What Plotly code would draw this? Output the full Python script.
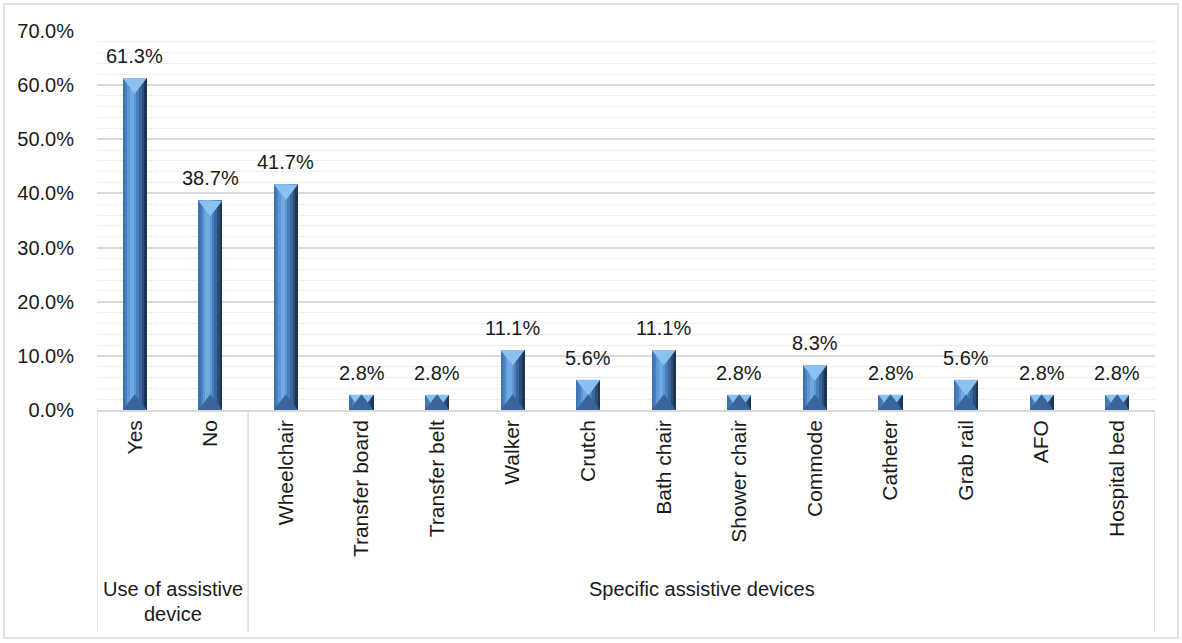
import plotly.graph_objects as go

# Survey results: use of assistive devices and the specific devices used
categories = ["Yes", "No", "Wheelchair", "Transfer board", "Transfer belt", "Walker",
              "Crutch", "Bath chair", "Shower chair", "Commode", "Catheter",
              "Grab rail", "AFO", "Hospital bed"]
values = [61.3, 38.7, 41.7, 2.8, 2.8, 11.1, 5.6, 11.1, 2.8, 8.3, 2.8, 5.6, 2.8, 2.8]
groups = [["Use of assistive", "device"], ["Specific assistive devices"]]
group_sizes = [2, 12]

FONT = "Liberation Sans, Arial, sans-serif"
TXT = "#1a1a1a"
GRID = "#d9d9d9"

# plot-area geometry (px) used for the bevel markers and decorations
W, H = 1182, 643
ML, MR, MT, MB = 97, 27, 31, 233
plot_h = H - MT - MB
px_per_unit = plot_h / 70.0


def py(p):
    """Pixel row -> paper y."""
    return (MT + plot_h - p) / plot_h


fig = go.Figure()

half = 0.16
# vertical strips give the bars a bevelled, cylindrical shading
strips = [
    (-half, half, "#4a7fbf"),
    (-half, -half + 0.03, "#3f72b0"),
    (-0.10, 0.02, "#5f97d6"),
    (-0.07, -0.01, "#6eaae6"),
    (0.05, half, "#3a6699"),
    (0.09, half, "#2b4d77"),
    (0.125, half, "#1d3654"),
]
for i, (a, b, col) in enumerate(strips):
    fig.add_trace(go.Bar(
        x=categories, y=values, width=b - a, offset=a,
        marker=dict(color=col, line=dict(width=0)),
        hoverinfo="skip" if i else None, showlegend=False,
    ))

# top and bottom bevel facets
bar_px = 2 * half * (W - ML - MR) / len(categories)
msize = bar_px / 1.1547
r = msize / 2
top_y = [v - (r / 2) / px_per_unit for v in values]
bot_y = [(r / 2) / px_per_unit for v in values]
fig.add_trace(go.Scatter(
    x=categories, y=top_y, mode="markers", hoverinfo="skip", showlegend=False,
    marker=dict(symbol="triangle-down", size=msize, color="#8cc0f0",
                line=dict(width=0)), cliponaxis=False))
fig.add_trace(go.Scatter(
    x=categories, y=bot_y, mode="markers", hoverinfo="skip", showlegend=False,
    marker=dict(symbol="triangle-up", size=msize, color="#3a659a",
                line=dict(width=0)), cliponaxis=False))

annotations = []
# value labels above each bar
for c, v in zip(categories, values):
    annotations.append(dict(
        x=c, y=v, xref="x", yref="y", yanchor="bottom", yshift=9,
        text=f"{v:.1f}%", showarrow=False,
        font=dict(family=FONT, size=20, color=TXT)))

# group labels and dividers below the category axis
shapes = []
start = 0
edges = [-0.5]
for lines, n in zip(groups, group_sizes):
    centre = start + (n - 1) / 2
    for k, line in enumerate(lines):
        annotations.append(dict(
            x=centre, xref="x", y=py(589 + 25 * k), yref="paper",
            yanchor="middle", text=line, showarrow=False,
            font=dict(family=FONT, size=20, color=TXT)))
    start += n
    edges.append(start - 0.5)
for e in edges:
    shapes.append(dict(type="line", xref="x", yref="paper", x0=e, x1=e,
                       y0=0, y1=py(632),
                       line=dict(color=GRID, width=1.5)))

# outer chart border
pw = W - ML - MR
shapes.append(dict(type="rect", xref="paper", yref="paper",
                   x0=(4 - ML) / pw, x1=(W - 4 - ML) / pw,
                   y0=py(H - 5), y1=py(4),
                   line=dict(color=GRID, width=1.5), fillcolor="rgba(0,0,0,0)",
                   layer="below"))

fig.update_layout(
    width=W, height=H, margin=dict(l=ML, r=MR, t=MT, b=MB),
    paper_bgcolor="white", plot_bgcolor="white",
    barmode="overlay", bargap=0,
    font=dict(family=FONT, size=20, color=TXT),
    shapes=shapes, annotations=annotations,
    xaxis=dict(type="category", tickangle=-90, showgrid=False, ticks="",
               showline=True, linecolor=GRID, linewidth=1.5, automargin=False,
               tickfont=dict(family=FONT, size=21, color=TXT),
               range=[-0.5, len(categories) - 0.5], fixedrange=True),
    yaxis=dict(range=[0, 70], dtick=10, tickformat=".1f", ticksuffix="%",
               showgrid=True, gridcolor=GRID, gridwidth=1.5, automargin=False,
               zeroline=False, showline=False, ticks="",
               ticklabelstandoff=22,
               tickfont=dict(family=FONT, size=20, color=TXT),
               minor=dict(dtick=2, showgrid=True, gridcolor="#efefef",
                          gridwidth=1)),
)

fig.write_html("out.html")
